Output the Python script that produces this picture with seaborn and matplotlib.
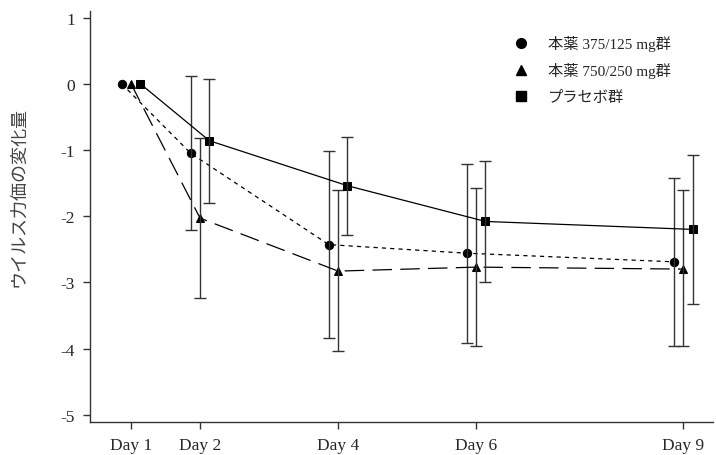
import numpy as np
import pandas as pd
import seaborn as sns
import matplotlib.pyplot as plt
from matplotlib.lines import Line2D

# Data
days = [1, 2, 4, 6, 9]
day_labels = ['Day 1', 'Day 2', 'Day 4', 'Day 6', 'Day 9']
groups = ['本薬 375/125 mg群', '本薬 750/250 mg群', 'プラセボ群']

mean_375 = [0.0, -1.05, -2.43, -2.56, -2.69]
low_375 = [0.0, -2.21, -3.84, -3.92, -3.96]
high_375 = [0.0, 0.12, -1.01, -1.21, -1.43]

mean_750 = [0.0, -2.03, -2.83, -2.77, -2.80]
low_750 = [0.0, -3.24, -4.03, -3.96, -3.96]
high_750 = [0.0, -0.82, -1.60, -1.58, -1.61]

mean_pbo = [0.0, -0.86, -1.54, -2.08, -2.20]
low_pbo = [0.0, -1.80, -2.28, -3.00, -3.32]
high_pbo = [0.0, 0.07, -0.81, -1.17, -1.08]

sns.set_style('ticks')
plt.rcParams['font.family'] = ['Liberation Serif', 'Noto Sans CJK JP']
plt.rcParams['lines.scale_dashes'] = False
plt.rcParams['axes.unicode_minus'] = False

means = [mean_375, mean_750, mean_pbo]
lows = [low_375, low_750, low_pbo]
highs = [high_375, high_750, high_pbo]
offsets = [-0.135, 0.0, 0.135]
markers = ['o', '^', 's']
dashes = [(3, 3), (14, 6), '']

rows = []
for g, m, lo, hi, off in zip(groups, means, lows, highs, offsets):
    for d, v, l, h in zip(days, m, lo, hi):
        rows.append({'group': g, 'x': d + off, 'value': v, 'low': l, 'high': h})
df = pd.DataFrame(rows)

fig = plt.figure(figsize=(7.16, 4.56), dpi=100)
ax = fig.add_axes([0.1257, 0.0724, 0.8700, 0.9013])

for g, mk, ds in zip(groups, markers, dashes):
    sub = df[df['group'] == g]
    sns.lineplot(data=sub, x='x', y='value', ax=ax, color='black', lw=0.9,
                 marker=mk, markersize=6, markeredgecolor='black',
                 dashes=False, legend=False, estimator=None, sort=False)
    if ds:
        ax.lines[-1].set_dashes(ds)
    nz = sub[sub['low'] != sub['high']]
    ax.errorbar(nz['x'], nz['value'],
                yerr=[nz['value'] - nz['low'], nz['high'] - nz['value']],
                fmt='none', ecolor='#333333', elinewidth=1.0, capsize=4.5, capthick=1.0)

ax.set_xlim(0.406, 9.43)
ax.set_ylim(-5.11, 1.10)
ax.set_xticks(days)
ax.set_xticklabels(day_labels)
ax.set_yticks([1, 0, -1, -2, -3, -4, -5])
ax.tick_params(axis='both', labelsize=12.5, length=5, width=1, color='#333333',
               direction='out', pad=6)
for s in ['left', 'bottom']:
    ax.spines[s].set_color('#333333')
    ax.spines[s].set_linewidth(1.0)
sns.despine(ax=ax)
ax.set_xlabel('')
ax.set_ylabel('ウイルス力価の変化量', fontsize=13, color='#444444')
ax.yaxis.set_label_coords(-0.1, 0.55)

handles = [Line2D([], [], color='black', marker=mk, linestyle='none', markersize=7)
           for mk in markers]
ax.legend(handles, groups, loc='upper left', bbox_to_anchor=(0.645, 0.975),
          frameon=False, fontsize=11, handletextpad=0.8, labelspacing=0.75)

fig.savefig('out.png', dpi=100)
